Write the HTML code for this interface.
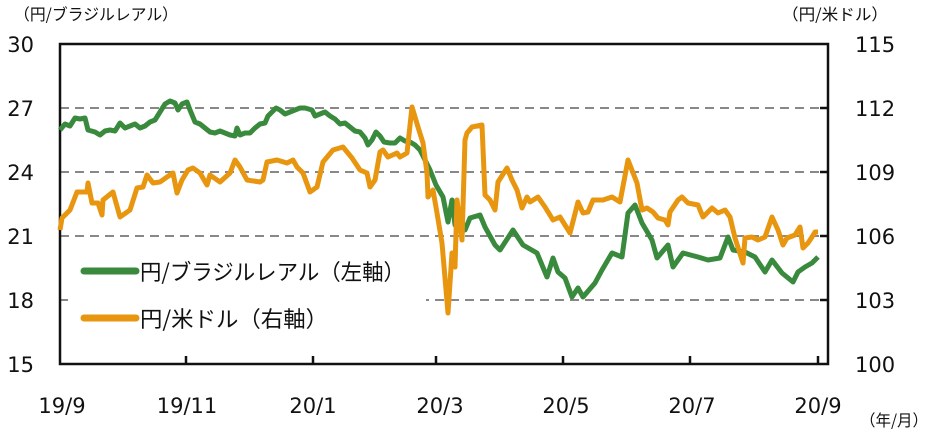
<!DOCTYPE html>
<html><head><meta charset="utf-8"><style>
body{margin:0;background:#fff}
svg{display:block}
text{font-family:"DejaVu Sans","Noto Sans CJK JP",sans-serif;fill:#111}
.j{font-family:"Noto Sans CJK JP",sans-serif}
</style></head><body>
<svg width="930" height="435" viewBox="0 0 930 435" xmlns="http://www.w3.org/2000/svg">
<g stroke="#888" stroke-width="2" stroke-dasharray="9,6">
<line x1="60" y1="108" x2="828" y2="108"/>
<line x1="60" y1="172" x2="828" y2="172"/>
<line x1="60" y1="236" x2="828" y2="236"/>
<line x1="60" y1="300" x2="828" y2="300"/>
</g>
<rect x="68" y="246" width="358" height="88" fill="#fff"/>
<g stroke="#111" stroke-width="2.5" fill="none">
<rect x="60" y="44" width="768" height="320"/>
<line x1="186" y1="364" x2="186" y2="356"/><line x1="313" y1="364" x2="313" y2="356"/>
<line x1="436" y1="364" x2="436" y2="356"/><line x1="563" y1="364" x2="563" y2="356"/>
<line x1="690" y1="364" x2="690" y2="356"/><line x1="818" y1="364" x2="818" y2="356"/>
<line x1="828" y1="108" x2="820" y2="108"/><line x1="828" y1="172" x2="820" y2="172"/>
<line x1="828" y1="236" x2="820" y2="236"/><line x1="828" y1="300" x2="820" y2="300"/>
</g>
<polyline fill="none" stroke="#3a8a3e" stroke-width="5" stroke-linejoin="round" points="60,130 65,124 70,126 75,118 80,119 85,118 88,130 95,132 100,135 105,131 110,130 115,131 120,123 125,128 130,126 135,124 140,128 145,126 150,122 155,120 160,112 165,104 170,101 175,103 178,110 182,104 187,102 190,110 195,122 200,124 205,128 210,132 215,133 220,131 225,133 230,135 235,136 237,128 240,135 245,133 250,133 255,128 260,124 265,123 268,116 272,112 276,108 280,110 285,114 290,112 295,110 300,108 305,108 312,110 315,116 320,114 325,112 330,116 335,119 340,124 345,123 350,127 355,131 360,132 365,138 368,145 372,140 376,132 380,136 384,142 390,143 395,143 400,138 405,141 410,142 415,145 420,150 425,160 430,170 436,185 443,197 448,222 452,200 455,225 460,228 465,230 470,218 480,215 485,227 495,245 500,250 513,230 523,245 537,253 547,277 553,258 558,272 565,278 572,297 578,288 583,297 595,283 602,270 612,253 622,257 628,213 635,205 642,223 652,240 657,258 668,245 673,267 683,253 698,257 708,260 720,258 728,237 733,250 745,252 755,257 765,272 772,260 782,273 793,282 798,272 805,267 812,263 818,257"/>
<polyline fill="none" stroke="#e8960f" stroke-width="5" stroke-linejoin="round" points="60,230 62,218 70,210 77,192 87,192 88,183 92,203 98,203 102,215 103,200 113,192 120,217 130,210 137,188 143,187 147,175 153,183 160,182 167,177 173,173 177,193 182,180 188,170 193,168 200,173 207,185 210,175 220,182 230,173 235,160 240,167 247,180 260,182 263,180 267,162 277,160 287,163 293,160 297,167 303,173 310,192 317,187 323,162 333,150 343,147 352,158 360,170 367,173 370,187 375,180 380,152 383,150 388,157 397,153 400,157 407,153 412,107 418,127 423,143 427,173 428,197 433,190 437,213 442,243 448,313 452,253 455,267 457,200 462,240 465,140 467,133 472,127 482,125 485,195 490,200 495,210 498,182 507,168 512,180 517,190 522,208 527,197 530,202 538,197 545,207 553,220 560,217 565,225 570,233 578,202 583,213 588,212 593,200 603,200 612,197 620,202 628,160 637,183 642,210 647,208 653,212 658,218 665,220 668,225 670,212 678,200 682,197 688,203 698,205 703,217 712,208 718,213 725,210 730,217 735,238 743,263 745,238 752,237 758,240 765,237 772,217 778,230 783,245 787,238 795,235 800,227 803,248 808,243 812,237 815,232 818,232"/>
<line x1="84" y1="271" x2="136" y2="271" stroke="#3a8a3e" stroke-width="7" stroke-linecap="round"/>
<line x1="84" y1="318" x2="136" y2="318" stroke="#e8960f" stroke-width="7" stroke-linecap="round"/>
<text class="j" x="140" y="280" font-size="22" textLength="265" lengthAdjust="spacingAndGlyphs">円/ブラジルレアル（左軸）</text>
<text class="j" x="140" y="327" font-size="22" textLength="188" lengthAdjust="spacingAndGlyphs">円/米ドル（右軸）</text>
<g font-size="21" text-anchor="end">
<text x="34" y="52">30</text><text x="34" y="116">27</text><text x="34" y="180">24</text>
<text x="34" y="244">21</text><text x="34" y="308">18</text><text x="34" y="372">15</text>
</g>
<g font-size="21" text-anchor="start">
<text x="855" y="52">115</text><text x="855" y="116">112</text><text x="855" y="180">109</text>
<text x="855" y="244">106</text><text x="855" y="308">103</text><text x="855" y="372">100</text>
</g>
<g font-size="21" text-anchor="middle">
<text x="62" y="413">19/9</text><text x="187" y="413">19/11</text><text x="313" y="413">20/1</text>
<text x="440" y="413">20/3</text><text x="566" y="413">20/5</text><text x="692" y="413">20/7</text>
<text x="818" y="413">20/9</text>
</g>
<text class="j" x="14" y="20" font-size="16" fill="#333" textLength="164" lengthAdjust="spacingAndGlyphs">（円/ブラジルレアル）</text>
<text class="j" x="782" y="20" font-size="16" fill="#333" textLength="106" lengthAdjust="spacingAndGlyphs">（円/米ドル）</text>
<text class="j" x="860" y="426" font-size="16" fill="#333" textLength="68" lengthAdjust="spacingAndGlyphs">（年/月）</text>
</svg>
</body></html>
